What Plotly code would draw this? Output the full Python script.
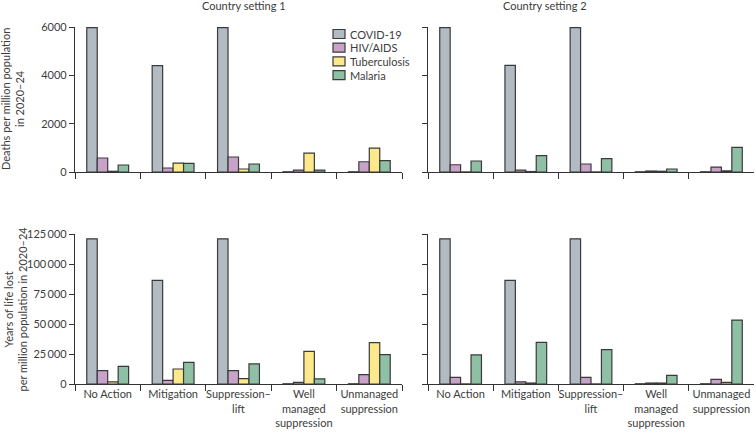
import plotly.graph_objects as go

categories = ["No Action", "Mitigation", "Suppression–<br>lift",
              "Well<br>managed<br>suppression", "Unmanaged<br>suppression"]
diseases = ["COVID-19", "HIV/AIDS", "Tuberculosis", "Malaria"]
colors = ["#b3bbc2", "#c9a2c9", "#fce98c", "#8fc0a5"]

# Deaths per million population, country setting 1
deaths_cs1 = {
    "COVID-19":     [5970, 4400, 5970, 10, 10],
    "HIV/AIDS":     [580, 165, 620, 80, 425],
    "Tuberculosis": [30, 370, 125, 785, 990],
    "Malaria":      [290, 360, 330, 80, 470],
}
# Deaths per million population, country setting 2
deaths_cs2 = {
    "COVID-19":     [5970, 4410, 5970, 10, 10],
    "HIV/AIDS":     [300, 80, 330, 40, 205],
    "Tuberculosis": [5, 20, 5, 30, 50],
    "Malaria":      [455, 675, 550, 125, 1020],
}
# Years of life lost per million population, country setting 1
yll_cs1 = {
    "COVID-19":     [121000, 86400, 121000, 200, 200],
    "HIV/AIDS":     [11100, 3000, 11100, 1400, 7800],
    "Tuberculosis": [1700, 12500, 4400, 27200, 34400],
    "Malaria":      [14700, 18000, 16700, 4200, 24400],
}
# Years of life lost per million population, country setting 2
yll_cs2 = {
    "COVID-19":     [121000, 86400, 121000, 200, 200],
    "HIV/AIDS":     [5600, 1700, 5600, 800, 3900],
    "Tuberculosis": [100, 800, 100, 800, 1400],
    "Malaria":      [24200, 34700, 28600, 7200, 53300],
}

top_ticks = [0, 2000, 4000, 6000]
top_ticktext = ["0", "2000", "4000", "6000"]
bot_ticks = [0, 25000, 50000, 75000, 100000, 125000]
bot_ticktext = ["0", "25\u2009000", "50\u2009000", "75\u2009000", "100\u2009000", "125\u2009000"]

fig = go.Figure()
panels = [(deaths_cs1, "x", "y"), (deaths_cs2, "x2", "y2"),
          (yll_cs1, "x3", "y3"), (yll_cs2, "x4", "y4")]
for pi, (data, xa, ya) in enumerate(panels):
    for d, c in zip(diseases, colors):
        fig.add_trace(go.Bar(
            x=categories, y=data[d], name=d, xaxis=xa, yaxis=ya,
            marker=dict(color=c, line=dict(color="#3a3a3a", width=1.2)),
            showlegend=False,
        ))

textc = "#3c3c3c"
axcol = "#333333"
font = "Lato"
fs = 11

W, H = 756, 433
xdom_l = [75 / W, 402 / W]
xdom_r = [428 / W, 754 / W]
ydom_t = [1 - 172 / H, 1 - 27 / H]
ydom_b = [1 - 384 / H, 1 - 234 / H]

def xax(dom, anchor, labels):
    return dict(domain=dom, anchor=anchor, type="category", tickson="boundaries",
                showline=True, linecolor=axcol, linewidth=1.2, ticks="outside",
                ticklen=6, tickcolor=axcol, tickwidth=1.2, showgrid=False,
                showticklabels=labels, tickangle=0,
                tickfont=dict(size=fs, color=textc),
                zeroline=False, fixedrange=True)

def yax(dom, anchor, rng, tv, tt, labels):
    return dict(domain=dom, anchor=anchor, range=rng, tickvals=tv, ticktext=tt,
                showline=True, linecolor=axcol, linewidth=1.2, ticks="outside",
                ticklen=5, tickcolor=axcol, tickwidth=1.2, showgrid=False,
                zeroline=False, showticklabels=labels, fixedrange=True,
                tickfont=dict(size=fs, color=textc))

annotations = [
    dict(text="Country setting 1", x=200 / W, y=1 - 5.5 / H,
         xref="paper", yref="paper", showarrow=False, yanchor="middle",
         font=dict(size=fs, color=textc)),
    dict(text="Country setting 2", x=589 / W, y=1 - 5.5 / H,
         xref="paper", yref="paper", showarrow=False, yanchor="middle",
         font=dict(size=fs, color=textc)),
    dict(text="Deaths per million population<br>in 2020–24", textangle=-90,
         x=12.5 / W, y=(ydom_t[0] + ydom_t[1]) / 2, xref="paper", yref="paper",
         showarrow=False, xanchor="center", yanchor="middle",
         font=dict(size=fs, color=textc)),
    dict(text="Years of life lost<br>per million population in 2020–24", textangle=-90,
         x=14.5 / W, y=(ydom_b[0] + ydom_b[1]) / 2, xref="paper", yref="paper",
         showarrow=False, xanchor="center", yanchor="middle",
         font=dict(size=fs, color=textc)),
]

# Legend (drawn manually to match compact spacing)
shapes = []
leg_x0, leg_y0, leg_dy = 333, 34, 13.7
for i, (d, c) in enumerate(zip(diseases, colors)):
    yc = leg_y0 + i * leg_dy
    shapes.append(dict(type="rect", xref="paper", yref="paper",
                       x0=leg_x0 / W, x1=(leg_x0 + 12) / W,
                       y0=1 - (yc + 4.5) / H, y1=1 - (yc - 4.5) / H,
                       fillcolor=c, line=dict(color="#3a3a3a", width=1.2)))
    annotations.append(dict(text=d, x=(leg_x0 + 15) / W, y=1 - yc / H,
                            xref="paper", yref="paper", showarrow=False,
                            xanchor="left", yanchor="middle",
                            font=dict(size=fs, color=textc)))

fig.update_layout(
    width=W, height=H,
    margin=dict(l=0, r=0, t=0, b=0, autoexpand=False),
    paper_bgcolor="white", plot_bgcolor="white",
    font=dict(family=font, size=fs, color=textc),
    barmode="group", bargap=0.36, bargroupgap=0,
    showlegend=False,
    xaxis=xax(xdom_l, "y", False),
    xaxis2=xax(xdom_r, "y2", False),
    xaxis3=xax(xdom_l, "y3", True),
    xaxis4=xax(xdom_r, "y4", True),
    yaxis=yax(ydom_t, "x", [0, 6000], top_ticks, top_ticktext, True),
    yaxis2=yax(ydom_t, "x2", [0, 6000], top_ticks, top_ticktext, False),
    yaxis3=yax(ydom_b, "x3", [0, 125000], bot_ticks, bot_ticktext, True),
    yaxis4=yax(ydom_b, "x4", [0, 125000], bot_ticks, bot_ticktext, False),
    annotations=annotations,
    shapes=shapes,
)

fig.write_html("out.html",
               config={"displayModeBar": False},
               post_script="document.body.style.margin='0';document.body.style.overflow='hidden';")
